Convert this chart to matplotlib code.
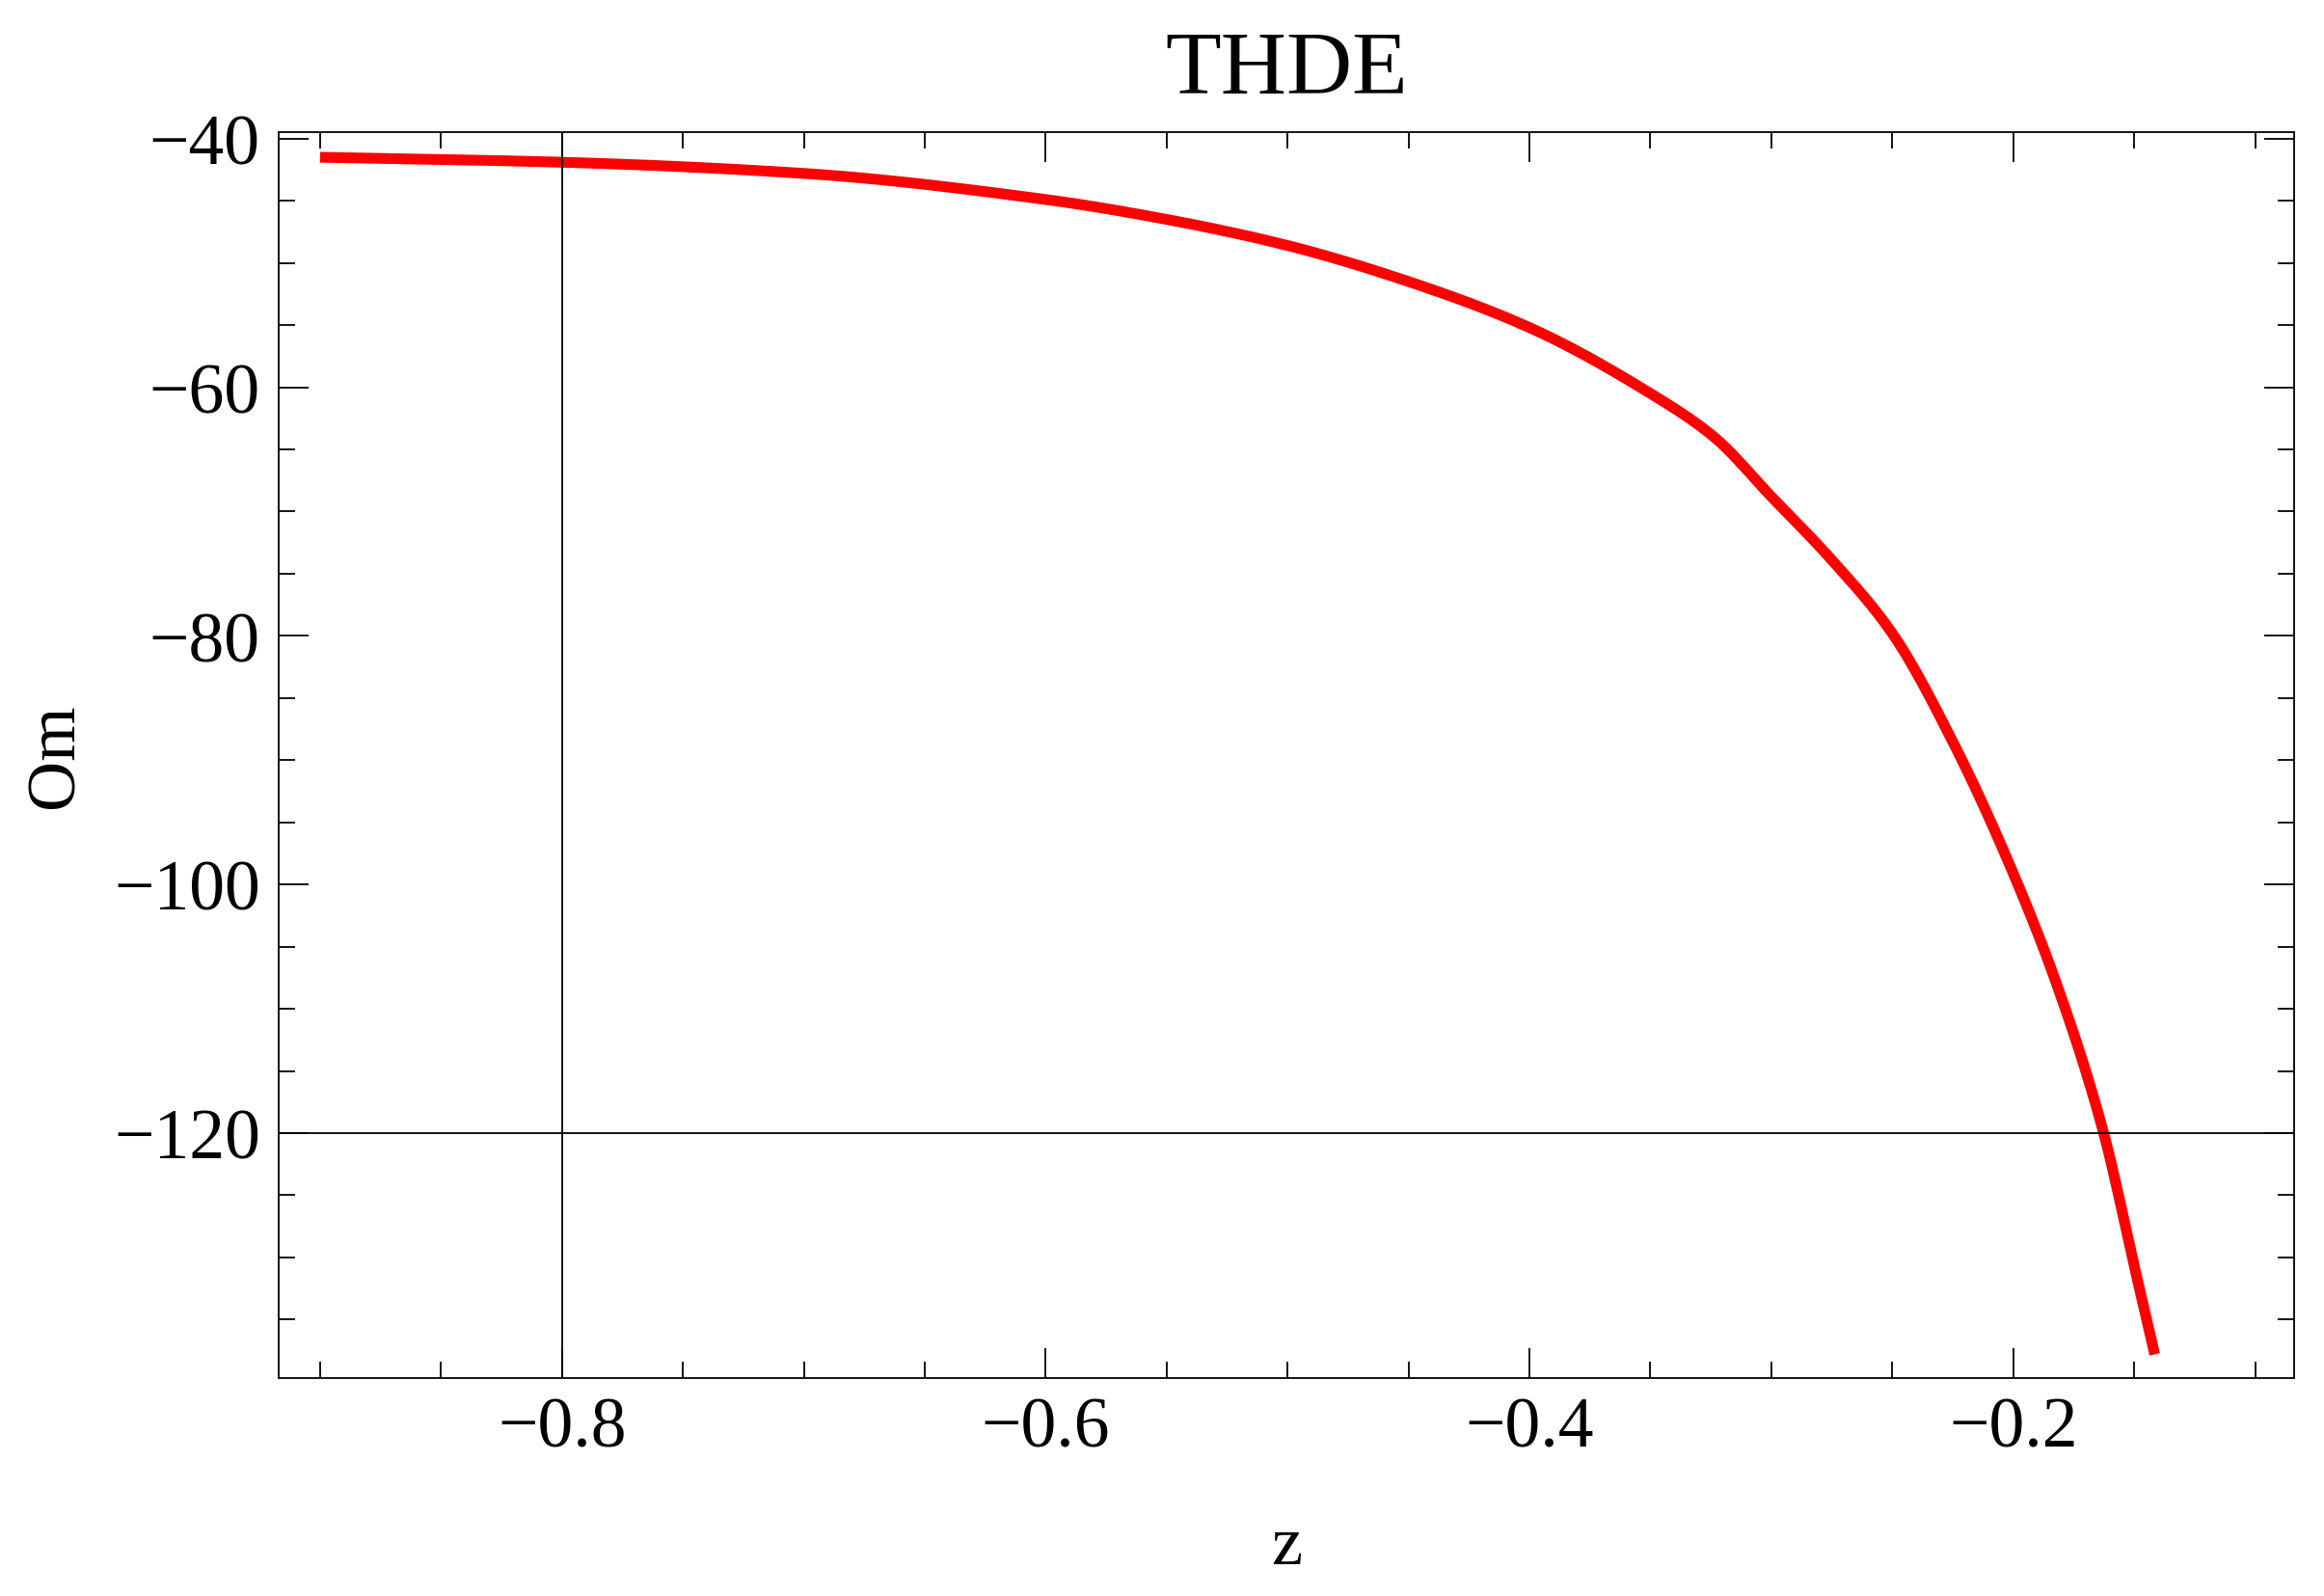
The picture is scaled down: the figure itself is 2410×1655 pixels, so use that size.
import matplotlib
matplotlib.use("Agg")
import matplotlib.pyplot as plt
from matplotlib.ticker import MultipleLocator
import numpy as np

z = [-0.9, -0.8, -0.7, -0.6, -0.55, -0.5, -0.45, -0.4, -0.35, -0.3237, -0.3, -0.275,
     -0.25, -0.224, -0.2, -0.1817, -0.1626, -0.1496, -0.1415]
om = [-41.5, -41.9, -42.8, -44.9, -46.5, -48.6, -51.5, -55.2, -60.5, -64.0, -68.8, -73.9,
      -79.8, -88.9, -99.1, -108.2, -120.0, -131.0, -137.8]

def pchip(x, y, xn):
    x = np.asarray(x); y = np.asarray(y)
    h = np.diff(x); d = np.diff(y) / h
    m = np.zeros_like(y)
    for k in range(1, len(x) - 1):
        if d[k-1] * d[k] > 0:
            w1 = 2*h[k] + h[k-1]; w2 = h[k] + 2*h[k-1]
            m[k] = (w1 + w2) / (w1/d[k-1] + w2/d[k])
    m[0] = d[0]; m[-1] = d[-1]
    idx = np.clip(np.searchsorted(x, xn) - 1, 0, len(h) - 1)
    t = (xn - x[idx]) / h[idx]
    h00 = 2*t**3 - 3*t**2 + 1; h10 = t**3 - 2*t**2 + t
    h01 = -2*t**3 + 3*t**2; h11 = t**3 - t**2
    return h00*y[idx] + h10*h[idx]*m[idx] + h01*y[idx+1] + h11*h[idx]*m[idx+1]

zz = np.linspace(z[0], z[-1], 600)

plt.rcParams['font.family'] = ['Liberation Serif', 'DejaVu Serif']
fig = plt.figure(figsize=(24.1, 16.56), dpi=100)
ax = fig.add_axes([0.12, 0.1365, 0.867, 0.78])
ax.plot(zz, pchip(z, om, zz), color='#ff0000', lw=8, solid_capstyle='butt')
ax.axvline(-0.8, color='black', lw=1.3)
ax.axhline(-120, color='black', lw=1.3)
ax.set_xlim(-0.917, -0.084)
ax.set_ylim(-139.7, -39.5)
ax.xaxis.set_minor_locator(MultipleLocator(0.05))
ax.yaxis.set_minor_locator(MultipleLocator(5))
ax.tick_params(which='both', direction='in', top=True, right=True, width=1.3)
ax.tick_params(which='major', length=22, labelsize=53, pad=14)
ax.tick_params(which='minor', length=12)
ax.set_xticks([-0.8, -0.6, -0.4, -0.2])
ax.set_xticklabels(['\u22120.8', '\u22120.6', '\u22120.4', '\u22120.2'])
ax.set_yticks([-120, -100, -80, -60, -40])
ax.set_yticklabels(['\u2212120', '\u2212100', '\u221280', '\u221260', '\u221240'])
for s in ax.spines.values():
    s.set_linewidth(1.3)
ax.set_xlabel('z', fontsize=52, labelpad=40)
ax.set_ylabel('Om', fontsize=52, labelpad=20)
ax.set_title('THDE', fontsize=68, pad=30)
fig.savefig('out.png', dpi=100)
